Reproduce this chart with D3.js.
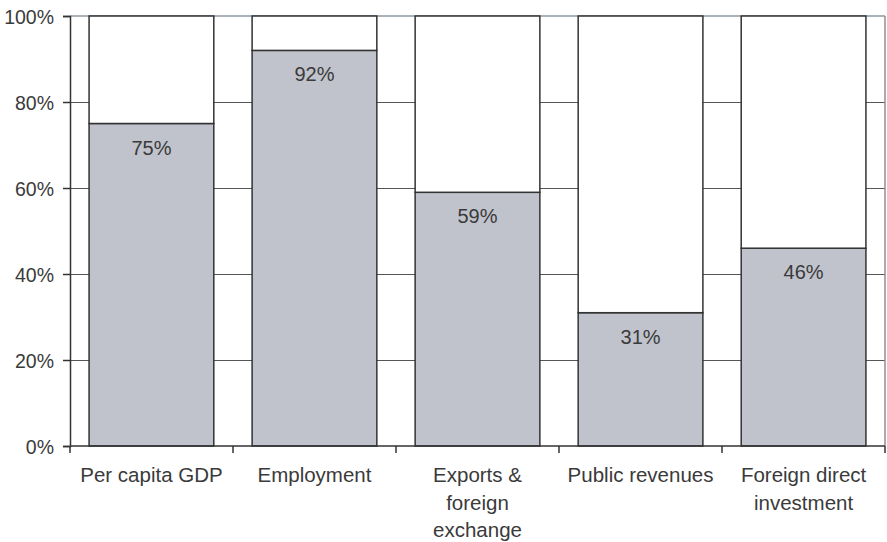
<!DOCTYPE html>
<html>
<head>
<meta charset="utf-8">
<script src="https://cdn.jsdelivr.net/npm/d3@7"></script>
<style>
  html, body { margin: 0; padding: 0; background: #fff; }
  svg { display: block; }
  text { font-family: "Liberation Sans", Arial, sans-serif; fill: #3a3a3a; }
</style>
</head>
<body>
<svg id="chart" width="887" height="542"></svg>
<script>
// Share of each indicator (percent); the remainder up to 100% is drawn white on top.
const categories = ["Per capita GDP", "Employment", "Exports & foreign exchange", "Public revenues", "Foreign direct investment"];
const categoryLines = [["Per capita GDP"], ["Employment"], ["Exports &", "foreign", "exchange"], ["Public revenues"], ["Foreign direct", "investment"]];
const shares = [75, 92, 59, 31, 46];
const yTicks = [0, 20, 40, 60, 80, 100];

const W = 887, H = 542;
const margin = { left: 70, right: 2, top: 16, bottom: 96 };

const svg = d3.select("#chart");

const x = d3.scaleBand()
  .domain(categories)
  .range([margin.left, W - margin.right])
  .paddingInner(0.235)
  .paddingOuter(0.117);

const y = d3.scaleLinear()
  .domain([0, 100])
  .range([H - margin.bottom, margin.top]);

const rows = categories.map((c, i) => ({ category: c, share: shares[i], rest: 100 - shares[i] }));
const stacked = d3.stack().keys(["share", "rest"])(rows);

// Horizontal gridlines and the top frame line
const grid = svg.append("g");
grid.selectAll("line.h")
  .data(yTicks.filter(t => t > 0 && t < 100))
  .join("line")
  .attr("x1", margin.left).attr("x2", W - margin.right)
  .attr("y1", d => Math.round(y(d)) + 0.5).attr("y2", d => Math.round(y(d)) + 0.5)
  .attr("stroke", "#555").attr("stroke-width", 1);
grid.append("line")
  .attr("x1", margin.left).attr("x2", W - margin.right)
  .attr("y1", y(100)).attr("y2", y(100))
  .attr("stroke", "#8d98a3").attr("stroke-width", 1.5);
grid.append("line")
  .attr("x1", W - margin.right).attr("x2", W - margin.right)
  .attr("y1", y(100)).attr("y2", y(0))
  .attr("stroke", "#8f8f8f").attr("stroke-width", 1.5);

// Stacked bars
const fills = { share: "#c0c3cb", rest: "#ffffff" };
svg.append("g").selectAll("g")
  .data(stacked)
  .join("g")
  .attr("fill", d => fills[d.key])
  .selectAll("rect")
  .data(d => d)
  .join("rect")
  .attr("x", d => x(d.data.category))
  .attr("width", x.bandwidth())
  .attr("y", d => y(d[1]))
  .attr("height", d => y(d[0]) - y(d[1]))
  .attr("stroke", "#333")
  .attr("stroke-width", 1.5);

// Value labels inside the grey segment
svg.append("g").selectAll("text")
  .data(rows)
  .join("text")
  .attr("x", d => x(d.category) + x.bandwidth() / 2)
  .attr("y", d => y(d.share) + 31)
  .attr("text-anchor", "middle")
  .attr("font-size", 20)
  .text(d => d.share + "%");

// Y axis
const yAxis = svg.append("g")
  .attr("transform", `translate(${margin.left},0)`)
  .call(d3.axisLeft(y).tickValues(yTicks).tickFormat(d => d + "%").tickSize(7).tickPadding(9));
yAxis.selectAll("path, line").attr("stroke", "#333").attr("stroke-width", 1.5);
yAxis.selectAll("text").attr("font-size", 19.5).attr("font-family", null).attr("fill", "#3a3a3a").attr("dy", "0.36em");

// X axis: ticks on category boundaries
const xAxisG = svg.append("g")
  .attr("transform", `translate(0,${y(0)})`);
const boundaries = d3.range(categories.length + 1).map(i => margin.left + i * ((W - margin.right - margin.left) / categories.length));
xAxisG.append("line")
  .attr("x1", margin.left).attr("x2", W - margin.right)
  .attr("y1", 0).attr("y2", 0)
  .attr("stroke", "#333").attr("stroke-width", 1.5);
xAxisG.selectAll("line.tick")
  .data(boundaries)
  .join("line")
  .attr("class", "tick")
  .attr("x1", d => d).attr("x2", d => d)
  .attr("y1", 0).attr("y2", 7)
  .attr("stroke", "#333").attr("stroke-width", 1.5);

// Category labels, wrapped
const labels = xAxisG.selectAll("text.cat")
  .data(categories)
  .join("text")
  .attr("class", "cat")
  .attr("text-anchor", "middle")
  .attr("font-size", 20.5)
  .attr("transform", d => `translate(${x(d) + x.bandwidth() / 2},36)`);
labels.selectAll("tspan")
  .data((d, i) => categoryLines[i])
  .join("tspan")
  .attr("x", 0)
  .attr("y", (d, i) => i * 27.7)
  .text(d => d);
</script>
</body>
</html>
